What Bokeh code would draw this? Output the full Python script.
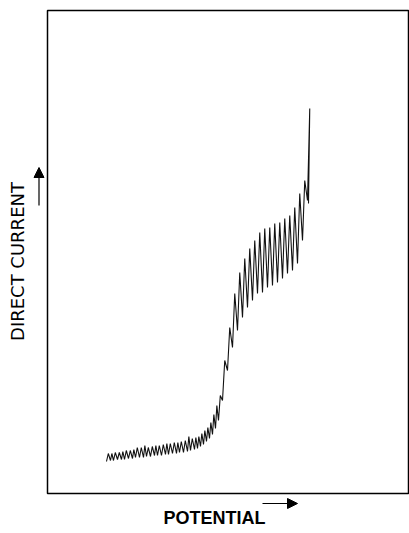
import math
from bokeh.plotting import figure
from bokeh.models import Range1d, Label, Arrow, NormalHead, BoxAnnotation
from bokeh.embed import file_html
from bokeh.resources import INLINE

# Polarogram read drop by drop (arbitrary potential / current units)
drop_potential = [59, 63, 66, 70, 74, 77, 81, 85, 88, 92,
                  96, 99, 103, 107, 110, 114, 118, 121, 125, 129,
                  132, 136, 140, 143, 147, 150, 153, 156, 159, 162,
                  165, 168, 171, 175, 180, 185, 190, 195, 200, 205,
                  210, 215, 220, 225, 230, 235, 240, 245, 250, 255,
                  260]
current_min = [32, 33, 33, 34, 34, 34, 35, 35, 36, 36,
               36, 37, 37, 38, 38, 38, 39, 39, 40, 40,
               41, 41, 42, 43, 44, 45, 47, 49, 52, 55,
               59, 65, 73, 93, 123, 146, 163, 176, 186, 193,
               200, 201, 206, 208, 211, 215, 220, 223, 230, 253,
               293]
current_max = [40, 40, 41, 41, 42, 43, 43, 44, 46, 46,
               48, 46, 47, 48, 48, 49, 50, 50, 51, 51,
               52, 53, 57, 55, 56, 57, 60, 63, 66, 71,
               79, 88, 98, 133, 166, 200, 221, 235, 245, 253,
               261, 265, 266, 270, 271, 275, 278, 286, 300, 313,
               385]
trace_end_potential = 261
trace_end_current = 290

x_label = "POTENTIAL"
y_label = "DIRECT CURRENT"

# plotting box of the recorder chart (potential 0..361, current 0..483)
box_left, box_right, box_bottom, box_top = 0, 361, 0, 483

# build the pen trace: each drop rises from its minimum to its maximum
xs, ys = [], []
n = len(drop_potential)
for i in range(n):
    step = (drop_potential[i + 1] - drop_potential[i]) if i < n - 1 else (drop_potential[i] - drop_potential[i - 1])
    xs += [drop_potential[i], drop_potential[i] + 0.45 * step]
    ys += [current_min[i], current_max[i]]
xs.append(trace_end_potential)
ys.append(trace_end_current)

p = figure(width=409, height=533,
           x_range=Range1d(-47, 362), y_range=Range1d(-40, 493),
           x_axis_type=None, y_axis_type=None,
           toolbar_location=None, output_backend="svg")
p.min_border_left = 0
p.min_border_right = 0
p.min_border_top = 0
p.min_border_bottom = 0
p.outline_line_color = None
p.background_fill_color = "white"
p.border_fill_color = "white"

p.add_layout(BoxAnnotation(left=box_left, right=box_right, bottom=box_bottom, top=box_top,
                           fill_color=None, fill_alpha=0, line_color="black",
                           line_alpha=1.0, line_width=1.5))

p.line(xs, ys, line_color="#111111", line_width=1.1)

p.add_layout(Label(x=167, y=-24, text=x_label, text_align="center",
                   text_baseline="middle", text_font="Liberation Sans",
                   text_font_style="bold", text_font_size="18px",
                   text_color="black"))
p.add_layout(Label(x=-30, y=232, text=y_label, angle=math.pi / 2,
                   text_align="center", text_baseline="middle",
                   text_font="DejaVu Sans", text_font_style="normal",
                   text_font_size="18px", text_color="black"))

p.add_layout(Arrow(end=NormalHead(size=10, fill_color="black", line_color="black"),
                   x_start=215, y_start=-10, x_end=250, y_end=-10,
                   line_color="black", line_width=1.2))
p.add_layout(Arrow(end=NormalHead(size=10, fill_color="black", line_color="black"),
                   x_start=-8.5, y_start=288, x_end=-8.5, y_end=326,
                   line_color="black", line_width=1.2))

open("out.html", "w").write(file_html(p, INLINE))
